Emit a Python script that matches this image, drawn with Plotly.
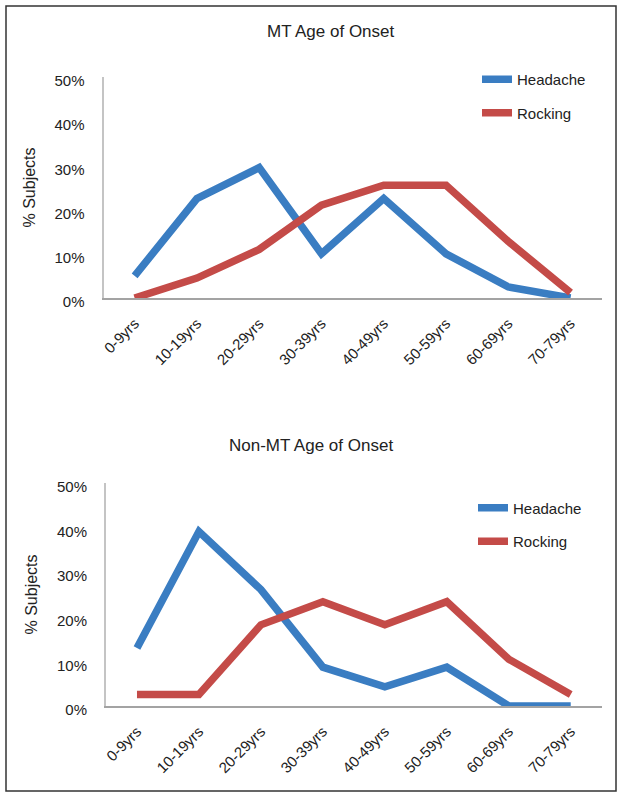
import plotly.graph_objects as go

categories = ["0-9yrs", "10-19yrs", "20-29yrs", "30-39yrs", "40-49yrs", "50-59yrs", "60-69yrs", "70-79yrs"]
mt_headache = [5.0, 22.5, 29.5, 10.0, 22.5, 10.0, 2.5, 0.0]
mt_rocking = [0.0, 4.5, 11.0, 21.0, 25.5, 25.5, 12.8, 1.2]
nonmt_headache = [13.0, 39.1, 26.1, 8.7, 4.3, 8.7, 0.0, 0.0]
nonmt_rocking = [2.6, 2.6, 18.2, 23.4, 18.2, 23.4, 10.5, 2.6]
y_ticks = [0, 10, 20, 30, 40, 50]
titles = ["MT Age of Onset", "Non-MT Age of Onset"]

W, H = 624, 798
BLUE = "#3a7dc2"
RED = "#c44b48"
FONT = "Liberation Sans, Arial, Helvetica, sans-serif"

def px_x(v):
    return v / W

def px_y(v):
    return 1 - v / H

fig = go.Figure()

fig.add_trace(go.Scatter(x=categories, y=mt_headache, mode="lines", name="Headache",
                         line=dict(color=BLUE, width=7.5), xaxis="x", yaxis="y",
                         legend="legend", legendgroup="h1"))
fig.add_trace(go.Scatter(x=categories, y=mt_rocking, mode="lines", name="Rocking",
                         line=dict(color=RED, width=7.5), xaxis="x", yaxis="y",
                         legend="legend", legendgroup="r1"))
fig.add_trace(go.Scatter(x=categories, y=nonmt_headache, mode="lines", name="Headache",
                         line=dict(color=BLUE, width=7.5), xaxis="x2", yaxis="y2",
                         legend="legend2", legendgroup="h2"))
fig.add_trace(go.Scatter(x=categories, y=nonmt_rocking, mode="lines", name="Rocking",
                         line=dict(color=RED, width=7.5), xaxis="x2", yaxis="y2",
                         legend="legend2", legendgroup="r2"))

xaxis_common = dict(
    type="category", categoryorder="array", categoryarray=categories,
    range=[-0.5, 7.5], tickangle=-45, showgrid=False, zeroline=False,
    showline=True, linecolor="#a3a3a3", linewidth=2, ticks="", automargin=False,
    ticklabelstandoff=9,
    tickfont=dict(family=FONT, size=15, color="#222"),
)
yaxis_common = dict(
    range=[0, 50], tickvals=y_ticks, ticktext=[f"{v}%" for v in y_ticks],
    showgrid=False, zeroline=False, showline=True, linecolor="#c4c4c4",
    linewidth=2, ticks="", ticklabelstandoff=14, ticklabelshift=4, automargin=False,
    tickfont=dict(family=FONT, size=15, color="#222"),
    title=dict(text="% Subjects", font=dict(family=FONT, size=16, color="#222"), standoff=15),
)

legend_common = dict(
    font=dict(family=FONT, size=15, color="#222"), bgcolor="rgba(0,0,0,0)",
    tracegroupgap=11, xanchor="left", yanchor="top", itemwidth=30,
)

fig.update_layout(
    width=W, height=H, paper_bgcolor="white", plot_bgcolor="white",
    margin=dict(l=0, r=0, t=0, b=0, pad=0, autoexpand=False), showlegend=True,
    xaxis=dict(domain=[px_x(103.5), px_x(601.7)], anchor="y", **xaxis_common),
    yaxis=dict(domain=[px_y(298), px_y(77)], anchor="x", **yaxis_common),
    xaxis2=dict(domain=[px_x(106), px_x(601.7)], anchor="y2", **xaxis_common),
    yaxis2=dict(domain=[px_y(706), px_y(483)], anchor="x2", **yaxis_common),
    legend=dict(x=px_x(477), y=px_y(63), **legend_common),
    legend2=dict(x=px_x(473), y=px_y(491.5), **legend_common),
    shapes=[dict(type="rect", xref="paper", yref="paper",
                 x0=px_x(6), x1=px_x(616), y0=px_y(791), y1=px_y(6),
                 line=dict(color="#333", width=1.5))],
    annotations=[
        dict(text=titles[0], x=px_x(330.5), y=px_y(31.7), xref="paper", yref="paper",
             xanchor="center", yanchor="middle", showarrow=False,
             font=dict(family=FONT, size=17, color="#222")),
        dict(text=titles[1], x=px_x(311), y=px_y(445), xref="paper", yref="paper",
             xanchor="center", yanchor="middle", showarrow=False,
             font=dict(family=FONT, size=17, color="#222")),
    ],
)

fig.write_html(
    "out.html",
    config={"displayModeBar": False},
    post_script=(
        "document.body.style.margin='0';"
        "document.body.style.padding='0';"
        "document.body.style.overflow='hidden';"
        "document.documentElement.style.overflow='hidden';"
    ),
)
